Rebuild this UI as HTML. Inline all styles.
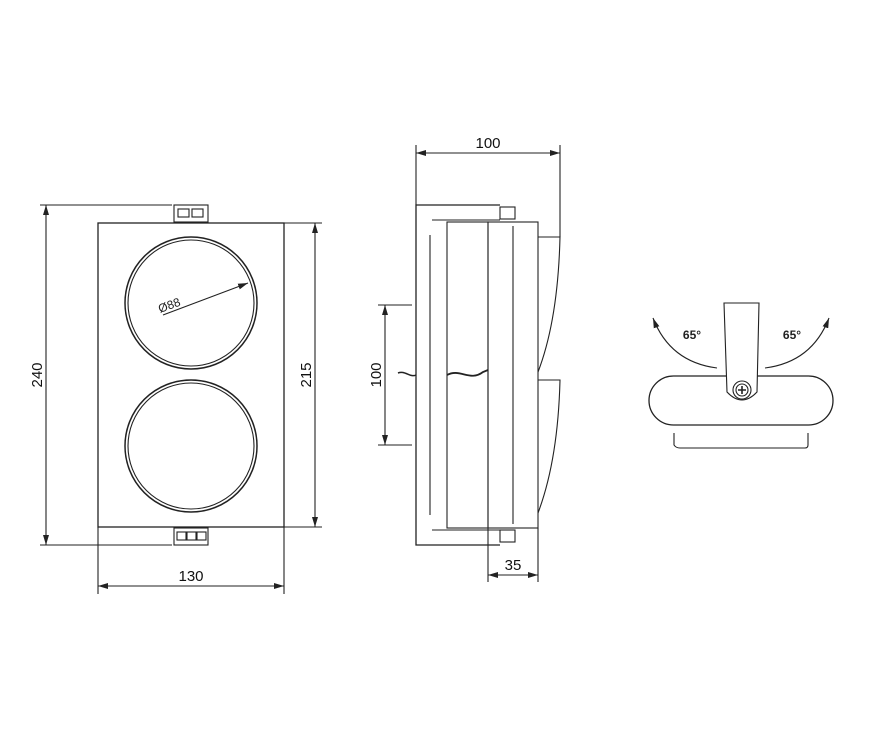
<!DOCTYPE html>
<html><head><meta charset="utf-8"><style>html,body{margin:0;padding:0;background:#fff}svg{display:block}</style></head>
<body>
<svg width="869" height="731" viewBox="0 0 869 731" xmlns="http://www.w3.org/2000/svg" font-family="Liberation Sans, sans-serif" fill="none" stroke="#222" stroke-width="1.1">
<defs>
<marker id="a" viewBox="0 0 10 6" refX="10" refY="3" markerWidth="10" markerHeight="6" orient="auto-start-reverse" markerUnits="userSpaceOnUse"><path d="M0,0 L10,3 L0,6z" fill="#222" stroke="none"/></marker>
</defs>
<!-- FRONT VIEW -->
<rect x="98" y="223" width="186" height="304" stroke-width="1.3"/>
<circle cx="191" cy="303" r="66" stroke-width="1.5"/>
<circle cx="191" cy="303" r="63"/>
<circle cx="191" cy="446" r="66" stroke-width="1.5"/>
<circle cx="191" cy="446" r="63"/>
<line x1="163" y1="315" x2="248" y2="283" marker-end="url(#a)"/>
<text x="160" y="313" font-size="12" fill="#222" stroke="none" transform="rotate(-20 160 313)">Ø88</text>
<!-- clips -->
<rect x="174" y="205" width="34" height="17"/><rect x="178" y="209" width="11" height="8"/><rect x="192" y="209" width="11" height="8"/>
<rect x="174" y="528" width="34" height="17"/><rect x="177" y="532" width="9" height="8"/><rect x="187" y="532" width="9" height="8"/><rect x="197" y="532" width="9" height="8"/>
<!-- dims -->
<line x1="40" y1="205" x2="172" y2="205"/><line x1="40" y1="545" x2="172" y2="545"/>
<line x1="46" y1="205" x2="46" y2="545" marker-start="url(#a)" marker-end="url(#a)"/>
<text x="42" y="375" font-size="15" fill="#111" stroke="none" text-anchor="middle" transform="rotate(-90 42 375)">240</text>
<line x1="284" y1="223" x2="322" y2="223"/><line x1="284" y1="527" x2="322" y2="527"/>
<line x1="315" y1="223" x2="315" y2="527" marker-start="url(#a)" marker-end="url(#a)"/>
<text x="311" y="375" font-size="15" fill="#111" stroke="none" text-anchor="middle" transform="rotate(-90 311 375)">215</text>
<line x1="98" y1="527" x2="98" y2="594"/><line x1="284" y1="527" x2="284" y2="594"/>
<line x1="98" y1="586" x2="284" y2="586" marker-start="url(#a)" marker-end="url(#a)"/>
<text x="191" y="581" font-size="15" fill="#111" stroke="none" text-anchor="middle">130</text>
<!-- SIDE VIEW -->
<path d="M500,205 L416,205 L416,545 L500,545" stroke-width="1.3"/>
<line x1="430" y1="235" x2="430" y2="515"/>
<rect x="447" y="222" width="41" height="306"/>
<rect x="488" y="222" width="50" height="306"/>
<line x1="513" y1="226" x2="513" y2="524"/>
<path d="M538,237 L560,237 Q558,320 538,372"/>
<path d="M538,380 L560,380 Q558,460 538,513"/>
<line x1="432" y1="220" x2="500" y2="220"/><line x1="432" y1="530" x2="500" y2="530"/>
<rect x="500" y="207" width="15" height="12"/><rect x="500" y="530" width="15" height="12"/>
<path d="M398,373 C405,370 410,378 416,375" stroke-width="1.5"/>
<path d="M447,375 C460,368 470,382 483,372 L488,370" stroke-width="1.8"/>
<line x1="416" y1="145" x2="416" y2="205"/><line x1="560" y1="145" x2="560" y2="237"/>
<line x1="416" y1="153" x2="560" y2="153" marker-start="url(#a)" marker-end="url(#a)"/>
<text x="488" y="148" font-size="15" fill="#111" stroke="none" text-anchor="middle">100</text>
<line x1="378" y1="305" x2="412" y2="305"/><line x1="378" y1="445" x2="412" y2="445"/>
<line x1="385" y1="305" x2="385" y2="445" marker-start="url(#a)" marker-end="url(#a)"/>
<text x="381" y="375" font-size="15" fill="#111" stroke="none" text-anchor="middle" transform="rotate(-90 381 375)">100</text>
<line x1="488" y1="528" x2="488" y2="582"/><line x1="538" y1="528" x2="538" y2="582"/>
<line x1="488" y1="575" x2="538" y2="575" marker-start="url(#a)" marker-end="url(#a)"/>
<text x="513" y="570" font-size="15" fill="#111" stroke="none" text-anchor="middle">35</text>
<!-- TOP VIEW -->
<path d="M674,433 L674,445 Q676,448 680,448 L805,448 Q808,448 808,445 L808,433"/>
<rect x="649" y="376" width="184" height="49" rx="24.5" stroke-width="1.3"/>
<path d="M724,303 L759,303 L757,392 Q742,408 727,392 Z" fill="#fff"/>
<circle cx="742" cy="390" r="9"/><circle cx="742" cy="390" r="6"/>
<path d="M738,390 h8 M742,386 v8" stroke-width="1.6"/>
<path d="M717,368 Q670,362 653,318" marker-end="url(#a)"/>
<path d="M765,368 Q812,362 829,318" marker-end="url(#a)"/>
<text x="692" y="339" font-size="12" font-weight="bold" fill="#222" stroke="none" text-anchor="middle">65°</text>
<text x="792" y="339" font-size="12" font-weight="bold" fill="#222" stroke="none" text-anchor="middle">65°</text>
</svg>
</body></html>
